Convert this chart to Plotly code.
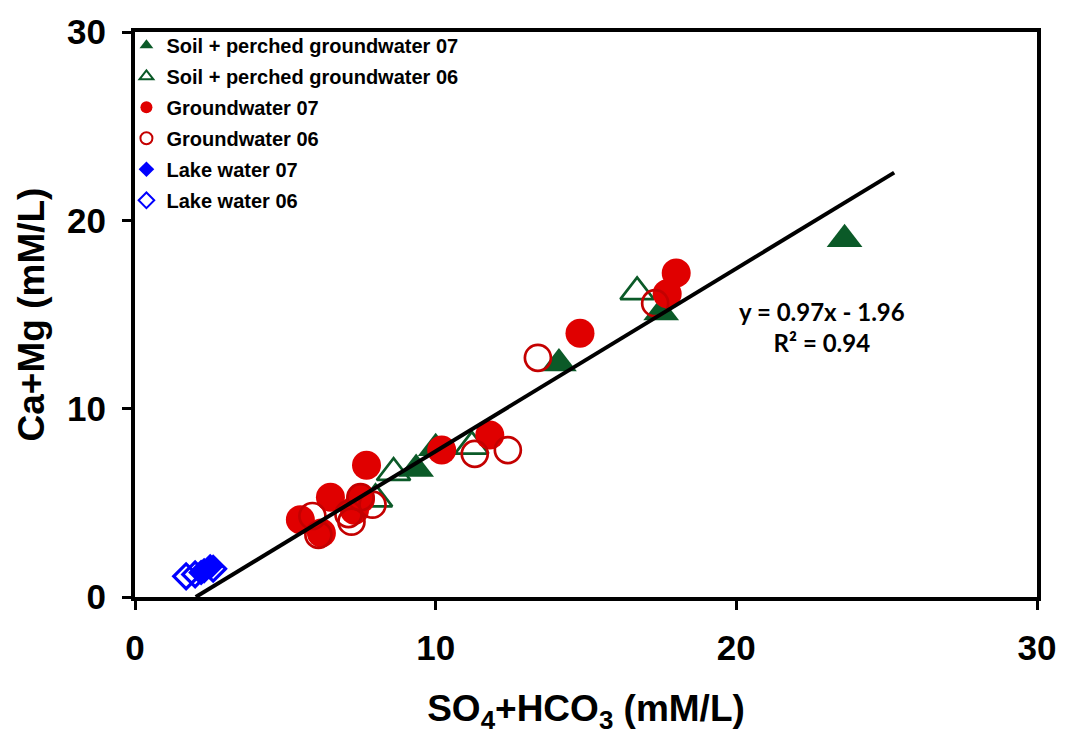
import plotly.graph_objects as go

# Ion balance samples: x = SO4 + HCO3, y = Ca + Mg (mM/L)
soil07_x = [23.6, 17.5, 14.1, 9.35, 10.0]
soil07_y = [19.0, 15.1, 12.4, 6.8, 7.9]

soil06_x = [16.7, 11.2, 8.6, 8.0]
soil06_y = [16.2, 8.0, 6.6, 5.2]

gw07_x = [18.0, 17.7, 14.8, 11.8, 10.2, 7.7, 6.5, 5.5, 6.2, 7.3, 7.5]
gw07_y = [17.2, 16.1, 14.0, 8.6, 7.8, 7.0, 5.3, 4.1, 3.4, 4.6, 5.2]

gw06_x = [17.3, 13.4, 12.4, 11.3, 5.9, 6.1, 7.2, 7.5, 7.9, 7.1]
gw06_y = [15.6, 12.7, 7.8, 7.6, 4.3, 3.3, 4.0, 5.3, 4.9, 4.4]

lake07_x = [2.2, 2.5, 2.3]
lake07_y = [1.3, 1.6, 1.4]

lake06_x = [1.7, 2.0, 2.6]
lake06_y = [1.1, 1.2, 1.5]

# Linear fit reported on the chart
slope = 0.97
intercept = -1.96
r_squared = 0.94
fit_x = [-intercept / slope, 25.25]
fit_y = [slope * v + intercept for v in fit_x]

tick_vals = [0, 10, 20, 30]

GREEN = "#0b5a28"
RED = "#e00000"
RED_RING = "#c40000"
BLUE = "#0000ff"

fig = go.Figure()

def add_series(name, xs, ys, symbol, color, size, line_w=0, line_color=None):
    fig.add_trace(go.Scatter(
        x=xs, y=ys, mode="markers", name=name, legendgroup=name,
        marker=dict(symbol=symbol, color=color, size=size,
                    line=dict(width=line_w, color=line_color or color)),
    ))

add_series("Soil + perched groundwater 07", soil07_x, soil07_y, "triangle-up", GREEN, 31)
add_series("Soil + perched groundwater 06", soil06_x, soil06_y, "triangle-up-open", GREEN, 29, 2.7)
add_series("Groundwater 07", gw07_x, gw07_y, "circle", RED, 29)
add_series("Groundwater 06", gw06_x, gw06_y, "circle-open", RED_RING, 26, 2.7)
add_series("Lake water 07", lake07_x, lake07_y, "diamond", BLUE, 20)
add_series("Lake water 06", lake06_x, lake06_y, "diamond-open", BLUE, 19, 3.2)

fig.add_trace(go.Scatter(
    x=fit_x, y=fit_y, mode="lines", showlegend=False,
    line=dict(color="black", width=4), hoverinfo="skip",
))

fig.add_annotation(
    x=22.85, y=14.35, xref="x", yref="y", showarrow=False,
    text=f"y = {slope:.2f}x - {abs(intercept):.2f}<br>R\u00b2 = {r_squared:.2f}",
    font=dict(family="Lato", size=24, color="black", weight="bold"),
    align="center",
)

axis_font = dict(family="Liberation Sans, Arial", size=35, color="black", weight="bold")
title_font = dict(family="Liberation Sans, Arial", size=37, color="black", weight="bold")

fig.update_layout(
    width=1068, height=736,
    margin=dict(l=135, r=29, t=22, b=139),
    paper_bgcolor="white", plot_bgcolor="white",
    showlegend=True,
    legend=dict(
        x=-0.0095, y=1.011, xanchor="left", yanchor="top",
        bgcolor="rgba(0,0,0,0)", borderwidth=0,
        font=dict(family="Liberation Sans, Arial", size=20, color="black", weight="bold"),
        itemsizing="constant", tracegroupgap=2,
    ),
    xaxis=dict(
        range=[0, 30], tickvals=tick_vals, showgrid=False, zeroline=False,
        showline=True, linecolor="black", linewidth=4, mirror=True,
        ticks="outside", ticklen=9, tickwidth=3, tickcolor="black",
        tickfont=axis_font, ticklabelstandoff=8,
        title=dict(text="SO<sub>4</sub>+HCO<sub>3</sub> (mM/L)", font=title_font, standoff=30),
    ),
    yaxis=dict(
        range=[0, 30], tickvals=tick_vals, showgrid=False, zeroline=False,
        showline=True, linecolor="black", linewidth=4, mirror=True,
        ticks="outside", ticklen=9, tickwidth=3, tickcolor="black",
        tickfont=axis_font, ticklabelstandoff=9,
        title=dict(text="Ca+Mg (mM/L)", font=title_font, standoff=12),
    ),
)

fig.write_html("out.html")
